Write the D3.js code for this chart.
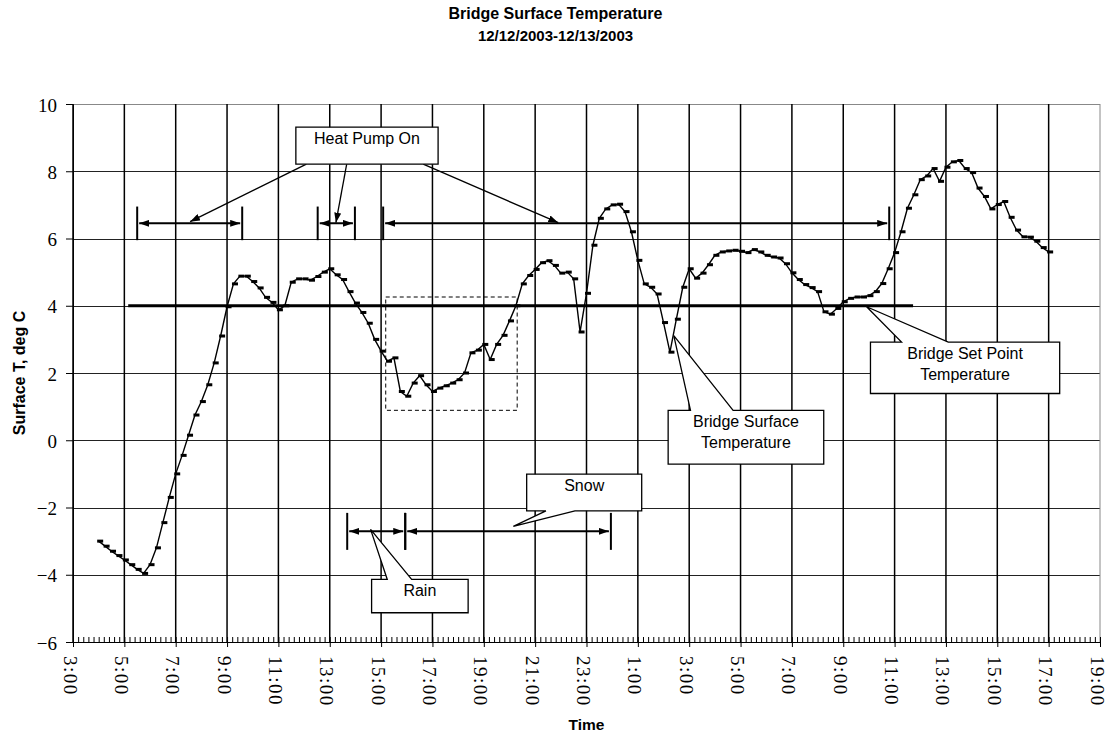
<!DOCTYPE html>
<html>
<head>
<meta charset="utf-8">
<script src="https://cdn.jsdelivr.net/npm/d3@7"></script>
<style>
  body { margin: 0; background: #fff; }
  svg { display: block; }
  text { fill: #000; }
</style>
</head>
<body>
<div class="canvas"></div>
<script>
// surface temperature readings, one every 15 minutes
// hours are counted from midnight of 12/12/2003 (so 28 = 4:00 on 12/13)
const startHour = 4;
const stepHours = 0.25;
const surfaceTemp = [
  -3.00, -3.15, -3.30, -3.43, -3.56, -3.70, -3.84, -3.96,   // 4:00 - 5:45
  -3.70, -3.20, -2.45, -1.70, -1.00, -0.45,  0.15,  0.75,   // 6:00 - 7:45
   1.15,  1.65,  2.30,  3.10,  3.97,  4.65,  4.88,  4.88,   // 8:00 - 9:45
   4.72,  4.53,  4.25,  4.10,  3.88,  4.00,  4.70,  4.80,   // 10:00 - 11:45
   4.80,  4.76,  4.87,  5.00,  5.10,  4.92,  4.78,  4.42,   // 12:00 - 13:45
   4.08,  3.80,  3.48,  3.00,  2.65,  2.35,  2.45,  1.45,   // 14:00 - 15:45
   1.31,  1.70,  1.92,  1.65,  1.45,  1.55,  1.62,  1.70,   // 16:00 - 17:45
   1.80,  2.00,  2.60,  2.68,  2.85,  2.40,  2.85,  3.12,   // 18:00 - 19:45
   3.55,  4.00,  4.65,  4.90,  5.08,  5.28,  5.34,  5.20,   // 20:00 - 21:45
   4.97,  5.00,  4.80,  3.22,  4.37,  5.80,  6.60,  6.88,   // 22:00 - 23:45
   7.00,  7.02,  6.80,  6.20,  5.35,  4.65,  4.55,  4.35,   // 0:00 - 1:45
   3.50,  2.62,  3.60,  4.55,  5.10,  4.82,  4.97,  5.22,   // 2:00 - 3:45
   5.50,  5.60,  5.63,  5.65,  5.62,  5.58,  5.67,  5.60,   // 4:00 - 5:45
   5.50,  5.45,  5.42,  5.25,  4.98,  4.78,  4.63,  4.54,   // 6:00 - 7:45
   4.42,  3.82,  3.75,  3.92,  4.12,  4.22,  4.26,  4.26,   // 8:00 - 9:45
   4.30,  4.42,  4.66,  5.10,  5.58,  6.20,  6.90,  7.30,   // 10:00 - 11:45
   7.75,  7.86,  8.08,  7.70,  8.12,  8.28,  8.32,  8.08,   // 12:00 - 13:45
   7.96,  7.50,  7.25,  6.88,  7.01,  7.10,  6.63,  6.25,   // 14:00 - 15:45
   6.05,  6.04,  5.92,  5.73,  5.60                          // 16:00 - 17:00
];

const xTicks = [3, 5, 7, 9, 11, 13, 15, 17, 19, 21, 23, 25, 27, 29, 31, 33, 35, 37, 39, 41, 43];
const yTicks = [-6, -4, -2, 0, 2, 4, 6, 8, 10];

const setPoint = 4;
const setPointSpan = [5.15, 35.72];

// annotation spans [from, to] in hours
const heatPumpOn = [[5.5, 9.59], [12.53, 13.98], [15.08, 34.79]];
const precip = [[13.68, 15.94], [15.94, 23.95]];   // rain, snow
const heatPumpLevel = 6.45;
const precipLevel = -2.71;
const focusBox = [15.18, 20.3, 4.26, 0.89];

// callouts: box = [t0, t1, vTop, vBottom], wedge base on top or bottom edge
const callouts = [
  {lines: ['Heat Pump On'], box: [11.68, 17.22, 9.31, 8.21], side: 'none'},
  {lines: ['Rain'], box: [14.63, 18.39, -4.14, -5.13], side: 'top', base: [15.24, 16.19], tip: [14.59, -2.65]},
  {lines: ['Snow'], box: [20.67, 25.15, -1.01, -2.10], side: 'bottom', base: [21.42, 22.55], tip: [20.15, -2.56]},
  {lines: ['Bridge Surface', 'Temperature'], box: [26.18, 32.24, 0.89, -0.71], side: 'top', base: [27.05, 28.71], tip: [26.4, 3.11]},
  {lines: ['Bridge Set Point', 'Temperature'], box: [34.06, 41.43, 2.92, 1.39], side: 'top', base: [35.27, 37.09], tip: [33.91, 3.97]}
];
// pointer lines from the Heat Pump On box: [from t, from v, to t, to v]
const pumpPointers = [[12.09, 8.21, 7.56, 6.5], [13.66, 8.21, 13.24, 6.47], [16.64, 8.21, 21.9, 6.47]];

const width = 1111, height = 736;
const margin = {top: 104, right: 11, bottom: 94, left: 73};
const graphWidth = width - margin.left - margin.right;
const graphHeight = height - margin.top - margin.bottom;

const data = surfaceTemp.map((v, i) => ({t: startHour + i * stepHours, v: v}));

const svg = d3.select('.canvas')
  .append('svg')
  .attr('width', width)
  .attr('height', height);

// arrow head
svg.append('defs').append('marker')
  .attr('id', 'head')
  .attr('viewBox', '0 0 10 7')
  .attr('refX', 10)
  .attr('refY', 3.5)
  .attr('markerWidth', 10)
  .attr('markerHeight', 7)
  .attr('markerUnits', 'userSpaceOnUse')
  .attr('orient', 'auto-start-reverse')
  .append('path')
  .attr('d', 'M0,0L10,3.5L0,7Z')
  .attr('fill', '#000');

// titles
const sans = "'Liberation Sans', Arial, sans-serif";
svg.append('text')
  .attr('x', width / 2).attr('y', 19)
  .attr('text-anchor', 'middle')
  .style('font-family', sans).style('font-weight', 'bold').style('font-size', '16px')
  .text('Bridge Surface Temperature');
svg.append('text')
  .attr('x', width / 2).attr('y', 40.5)
  .attr('text-anchor', 'middle')
  .style('font-family', sans).style('font-weight', 'bold').style('font-size', '15px')
  .text('12/12/2003-12/13/2003');

const graph = svg.append('g')
  .attr('transform', `translate(${margin.left},${margin.top})`);

const x = d3.scaleLinear().domain([3, 43]).range([0, graphWidth]);
const y = d3.scaleLinear().domain([-6, 10]).range([graphHeight, 0]);

// grid
graph.append('g').selectAll('line')
  .data(yTicks)
  .enter().append('line')
  .attr('x1', 0).attr('x2', graphWidth)
  .attr('y1', d => Math.round(y(d)) + 0.5).attr('y2', d => Math.round(y(d)) + 0.5)
  .attr('stroke', d => d === 10 ? '#888' : '#222')
  .attr('stroke-width', 1);
graph.append('g').selectAll('line')
  .data(xTicks)
  .enter().append('line')
  .attr('x1', d => x(d)).attr('x2', d => x(d))
  .attr('y1', 0).attr('y2', graphHeight)
  .attr('stroke', d => d === 43 ? '#888' : '#000')
  .attr('stroke-width', d => d === 43 ? 1 : 1.5);

// axes
const xAxisGroup = graph.append('g').attr('transform', `translate(0,${graphHeight})`);
const xMinorGroup = graph.append('g').attr('transform', `translate(0,${graphHeight})`);
const yAxisGroup = graph.append('g');

const xAxis = d3.axisBottom(x)
  .tickValues(xTicks)
  .tickSizeInner(5).tickSizeOuter(0)
  .tickFormat(d => (d % 24) + ':00');
const minorTicks = d3.range(3, 43.001, 0.2);
const xMinor = d3.axisBottom(x)
  .tickValues(minorTicks)
  .tickSizeInner(-5).tickSizeOuter(0)
  .tickFormat('');
const yAxis = d3.axisLeft(y)
  .tickValues(yTicks)
  .tickSizeInner(7).tickSizeOuter(0)
  .tickPadding(9)
  .tickFormat(d => d < 0 ? '\u2212' + Math.abs(d) : d);

xMinorGroup.call(xMinor);
xAxisGroup.call(xAxis);
yAxisGroup.call(yAxis);

graph.selectAll('.domain').attr('stroke', '#000');
graph.selectAll('.tick line').attr('stroke', '#000');

xAxisGroup.selectAll('text')
  .attr('transform', 'rotate(90)')
  .attr('text-anchor', 'start')
  .attr('x', 14)
  .attr('y', 10)
  .attr('dy', 0)
  .style('font-family', "'Liberation Serif', 'Times New Roman', serif")
  .style('font-size', '19px')
  .style('letter-spacing', '1.5px');

yAxisGroup.selectAll('text')
  .attr('dy', '0.38em')
  .style('font-family', "'Liberation Serif', 'Times New Roman', serif")
  .style('font-size', '19px');

// axis titles
svg.append('text')
  .attr('x', margin.left + graphWidth / 2).attr('y', 730)
  .attr('text-anchor', 'middle')
  .style('font-family', sans).style('font-weight', 'bold').style('font-size', '15.5px')
  .text('Time');
svg.append('text')
  .attr('transform', `translate(25,${margin.top + graphHeight / 2}) rotate(-90)`)
  .attr('text-anchor', 'middle')
  .style('font-family', sans).style('font-weight', 'bold').style('font-size', '16px')
  .text('Surface T, deg C');

// set point line
graph.append('line')
  .attr('x1', x(setPointSpan[0])).attr('x2', x(setPointSpan[1]))
  .attr('y1', y(setPoint)).attr('y2', y(setPoint))
  .attr('stroke', '#000')
  .attr('stroke-width', 3);

// surface temperature: thin line plus dash markers
const line = d3.line().x(d => x(d.t)).y(d => y(d.v));
graph.append('path')
  .datum(data)
  .attr('d', line)
  .attr('fill', 'none')
  .attr('stroke', '#000')
  .attr('stroke-width', 1.4);

graph.append('g').selectAll('rect')
  .data(data)
  .enter().append('rect')
  .attr('x', d => x(d.t) - 1.5)
  .attr('y', d => y(d.v) - 1.5)
  .attr('width', 6)
  .attr('height', 3)
  .attr('fill', '#000');

// dashed box round the rain/snow dip
graph.append('rect')
  .attr('x', x(focusBox[0])).attr('y', y(focusBox[2]))
  .attr('width', x(focusBox[1]) - x(focusBox[0]))
  .attr('height', y(focusBox[3]) - y(focusBox[2]))
  .attr('fill', 'none')
  .attr('stroke', '#000')
  .attr('stroke-width', 1)
  .attr('stroke-dasharray', '4,3');

// interval arrows with end bars
function spans(list, level, half) {
  const g = graph.append('g');
  g.selectAll('line.arrow')
    .data(list)
    .enter().append('line')
    .attr('class', 'arrow')
    .attr('x1', d => x(d[0]) + 2).attr('x2', d => x(d[1]) - 2)
    .attr('y1', y(level)).attr('y2', y(level))
    .attr('stroke', '#000').attr('stroke-width', 2)
    .attr('marker-start', 'url(#head)')
    .attr('marker-end', 'url(#head)');
  const ends = [];
  list.forEach(d => { ends.push(d[0]); ends.push(d[1]); });
  g.selectAll('line.bar')
    .data(ends)
    .enter().append('line')
    .attr('class', 'bar')
    .attr('x1', d => x(d)).attr('x2', d => x(d))
    .attr('y1', y(level + half)).attr('y2', y(level - half))
    .attr('stroke', '#000').attr('stroke-width', 2);
}
spans(heatPumpOn, heatPumpLevel, 0.5);
spans(precip, precipLevel, 0.55);

// pointer lines from Heat Pump On box
graph.append('g').selectAll('line')
  .data(pumpPointers)
  .enter().append('line')
  .attr('x1', d => x(d[0])).attr('y1', d => y(d[1]))
  .attr('x2', d => x(d[2])).attr('y2', d => y(d[3]))
  .attr('stroke', '#000').attr('stroke-width', 1.3)
  .attr('marker-end', 'url(#head)');

// callout boxes
function calloutPath(c) {
  const x0 = x(c.box[0]), x1 = x(c.box[1]), y0 = y(c.box[2]), y1 = y(c.box[3]);
  if (c.side === 'none') return `M${x0},${y0}H${x1}V${y1}H${x0}Z`;
  const b0 = x(c.base[0]), b1 = x(c.base[1]), tx = x(c.tip[0]), ty = y(c.tip[1]);
  if (c.side === 'top')
    return `M${x0},${y0}L${b0},${y0}L${tx},${ty}L${b1},${y0}L${x1},${y0}L${x1},${y1}L${x0},${y1}Z`;
  return `M${x0},${y0}L${x1},${y0}L${x1},${y1}L${b1},${y1}L${tx},${ty}L${b0},${y1}L${x0},${y1}Z`;
}

const co = graph.append('g').selectAll('g')
  .data(callouts)
  .enter().append('g');
co.append('path')
  .attr('d', calloutPath)
  .attr('fill', '#fff')
  .attr('stroke', '#000')
  .attr('stroke-width', 1.3)
  .attr('stroke-linejoin', 'miter');
co.each(function(c) {
  const cx = (x(c.box[0]) + x(c.box[1])) / 2;
  const top = y(c.box[2]);
  d3.select(this).selectAll('text')
    .data(c.lines)
    .enter().append('text')
    .attr('x', cx)
    .attr('y', (d, i) => top + 17 + i * 20.5)
    .attr('text-anchor', 'middle')
    .style('font-family', sans)
    .style('font-size', '16px')
    .text(d => d);
});
</script>
</body>
</html>
